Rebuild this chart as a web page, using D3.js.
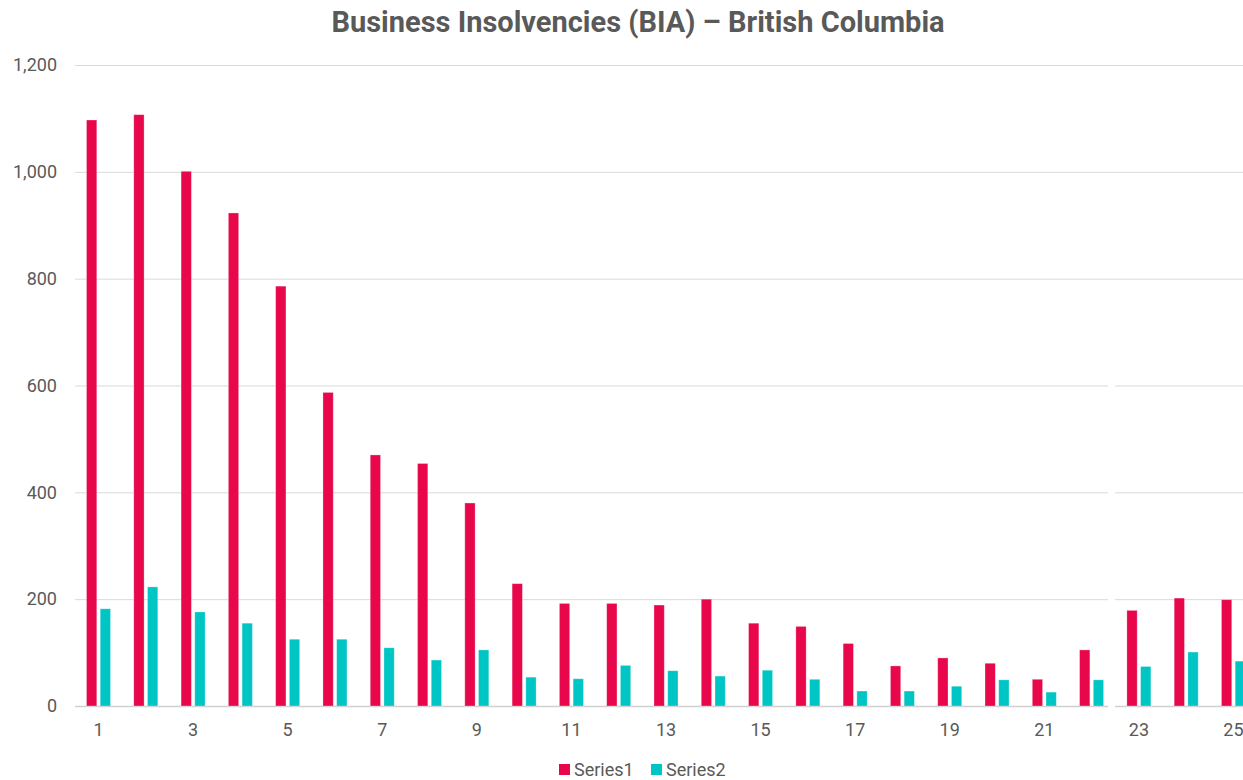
<!DOCTYPE html>
<html>
<head>
<meta charset="utf-8">
<script src="https://cdn.jsdelivr.net/npm/d3@7"></script>
<style>
  body { margin: 0; background: #fff; overflow: hidden; }
  svg { display: block; font-family: Roboto, "Open Sans", sans-serif; }
</style>
</head>
<body>
<svg></svg>
<script>
const categories = d3.range(1, 26).map(String);
const series1 = [1097, 1107, 1001, 923, 786, 587, 470, 454, 380, 229, 192, 192, 189, 200, 155,
                 149, 117, 75, 90, 80, 50, 105, 179, 202, 199];
const series2 = [182, 223, 176, 155, 125, 125, 109, 86, 105, 54, 51, 76, 66, 56, 67,
                 50, 28, 28, 37, 49, 26, 49, 74, 101, 84];
const seriesNames = ['Series1', 'Series2'];
const colors = ['#E8074B', '#00C5C5'];
const yTicks = [0, 200, 400, 600, 800, 1000, 1200];

const width = 1243;
const height = 780;
const step = 47.29;
const plotLeft = 74.86;

const svg = d3.select('svg')
    .attr('width', width)
    .attr('height', height);

const data = categories.map((c, i) => ({ cat: c, values: [series1[i], series2[i]] }));

const x = d3.scaleBand()
    .domain(categories)
    .range([plotLeft, plotLeft + 25 * step])
    .paddingInner(0.4925)
    .paddingOuter(0.24625);

const x1 = d3.scaleBand()
    .domain([0, 1])
    .range([0, x.bandwidth()])
    .paddingInner(0.25);

const y = d3.scaleLinear()
    .domain([0, 1200])
    .range([706, 65]);

// title
svg.append('text')
    .attr('x', 638)
    .attr('y', 32)
    .attr('text-anchor', 'middle')
    .attr('font-size', 29)
    .attr('font-weight', 'bold')
    .attr('fill', '#595959')
    .text('Business Insolvencies (BIA) \u2013 British Columbia');

// gridlines
const grid = svg.append('g')
    .attr('transform', 'translate(75,0)')
    .call(d3.axisLeft(y).tickValues(yTicks).tickSize(-(width - 75)).tickFormat(''));
grid.select('.domain').remove();
grid.selectAll('line')
    .attr('stroke', d => d === 0 ? '#d0d0d0' : '#d9d9d9')
    .attr('stroke-width', d => d === 0 ? 1.5 : 1);

// y labels
const yAxis = svg.append('g')
    .attr('transform', 'translate(57,0)')
    .call(d3.axisLeft(y).tickValues(yTicks).tickSize(0).tickPadding(0).tickFormat(d3.format(',')));
yAxis.select('.domain').remove();
yAxis.selectAll('text')
    .attr('font-size', 18)
    .attr('fill', '#595959')
    .attr('font-family', 'Roboto, sans-serif');

// white gap over the gridlines
svg.append('rect')
    .attr('x', 1108)
    .attr('y', 300)
    .attr('width', 7)
    .attr('height', 412)
    .attr('fill', '#fff');

// bars
const groups = svg.append('g')
    .selectAll('g')
    .data(data)
    .enter()
    .append('g')
    .attr('transform', d => `translate(${x(d.cat)},0)`);

groups.selectAll('rect')
    .data(d => d.values.map((v, i) => ({ i, v })))
    .enter()
    .append('rect')
    .attr('x', d => x1(d.i))
    .attr('y', d => y(d.v))
    .attr('width', x1.bandwidth())
    .attr('height', d => y(0) - y(d.v))
    .attr('fill', d => colors[d.i])
    .attr('stroke', '#fff')
    .attr('stroke-opacity', 0.35)
    .attr('stroke-width', 0.8);

// x labels (every other)
const xAxis = svg.append('g')
    .attr('transform', 'translate(0,723)')
    .call(d3.axisBottom(x)
        .tickValues(categories.filter((c, i) => i % 2 === 0))
        .tickSize(0)
        .tickPadding(0));
xAxis.select('.domain').remove();
xAxis.selectAll('text')
    .attr('dy', '0.71em')
    .attr('font-size', 18)
    .attr('fill', '#595959')
    .attr('font-family', 'Roboto, sans-serif');

// legend
const legend = svg.append('g')
    .attr('transform', 'translate(559,764)');
const legendX = [0, 92];
seriesNames.forEach((name, i) => {
    legend.append('rect')
        .attr('x', legendX[i])
        .attr('y', 0)
        .attr('width', 11)
        .attr('height', 11)
        .attr('fill', colors[i]);
    legend.append('text')
        .attr('x', legendX[i] + 15)
        .attr('y', 11.5)
        .attr('font-size', 18)
        .attr('fill', '#595959')
        .text(name);
});
</script>
</body>
</html>
